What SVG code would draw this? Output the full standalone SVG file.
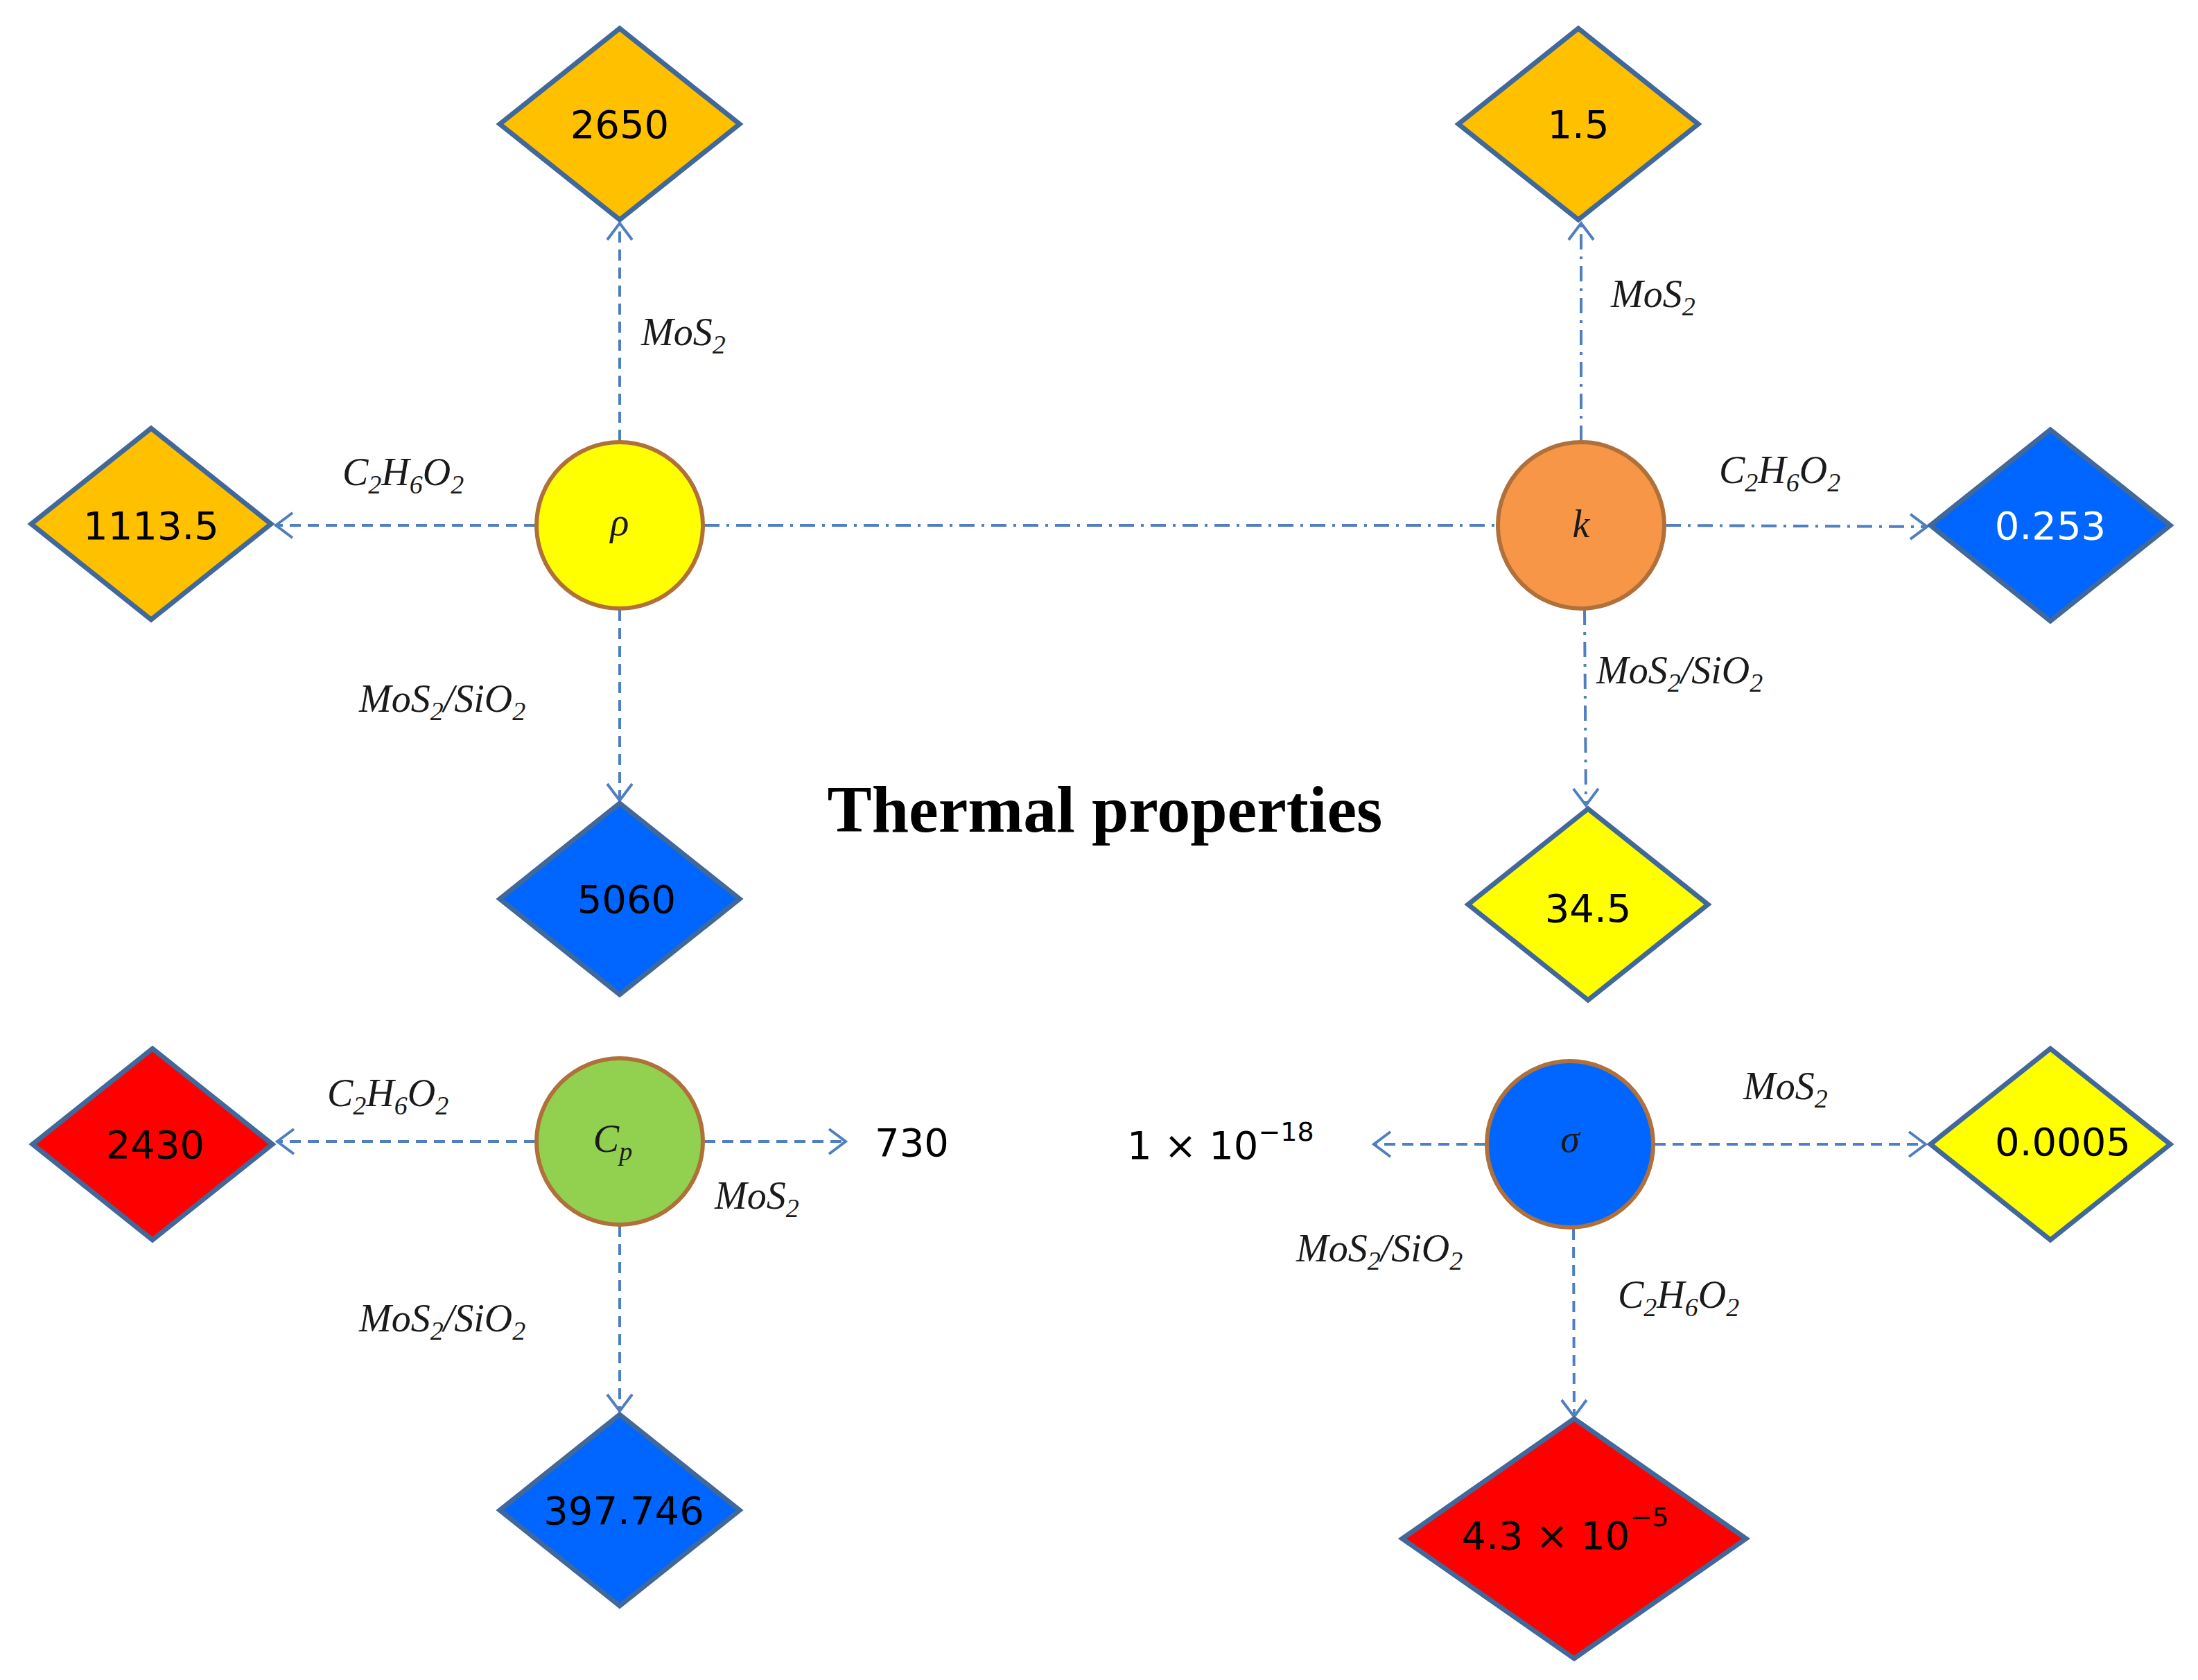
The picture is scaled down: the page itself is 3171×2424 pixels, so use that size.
<svg xmlns="http://www.w3.org/2000/svg" width="3171" height="2424" viewBox="0 0 3171 2424">
<style>
.d{stroke:#41689A;stroke-width:7;stroke-linejoin:miter}
.c{stroke:#B0703A;stroke-width:6}
.v{font-family:"DejaVu Sans",Verdana,sans-serif;font-size:56px;text-anchor:middle;dominant-baseline:central}
.l{font-family:"Liberation Serif","DejaVu Serif",serif;font-style:italic;font-size:56px;fill:#1a1a1a}
.s{font-size:38px}
.cn{stroke:#4F7FC0;stroke-width:4;fill:none;stroke-dasharray:16 10}
.dd{stroke-dasharray:22 10 4 10}
</style>
<defs>
<marker id="a" markerUnits="userSpaceOnUse" markerWidth="40" markerHeight="50" refX="28" refY="20" orient="auto" viewBox="0 0 40 40">
<path d="M4,2 L28,20 L4,38" fill="none" stroke="#4F7FC0" stroke-width="4"/>
</marker>
</defs>
<rect width="3171" height="2424" fill="#fff"/>
<g id="connectors">
<line class="cn" x1="894" y1="636" x2="894" y2="322" marker-end="url(#a)"/>
<line class="cn" x1="772" y1="758" x2="398" y2="758" marker-end="url(#a)"/>
<line class="cn" x1="894" y1="880" x2="894" y2="1155" marker-end="url(#a)"/>
<line class="cn dd" x1="1016" y1="758" x2="2159" y2="758"/>
<line class="cn dd" x1="2281" y1="636" x2="2281" y2="322" marker-end="url(#a)"/>
<line class="cn dd" x1="2403" y1="758" x2="2780" y2="760" marker-end="url(#a)"/>
<line class="cn dd" x1="2286" y1="880" x2="2288" y2="1162" marker-end="url(#a)"/>
<line class="cn" x1="772" y1="1647" x2="400" y2="1647" marker-end="url(#a)"/>
<line class="cn" x1="1016" y1="1647" x2="1220" y2="1647" marker-end="url(#a)"/>
<line class="cn" x1="894" y1="1769" x2="894" y2="2036" marker-end="url(#a)"/>
<line class="cn" x1="2143" y1="1651" x2="1982" y2="1651" marker-end="url(#a)"/>
<line class="cn" x1="2387" y1="1651" x2="2778" y2="1651" marker-end="url(#a)"/>
<line class="cn" x1="2270" y1="1773" x2="2271" y2="2044" marker-end="url(#a)"/>
</g>
<g id="n2650"><polygon class="d" fill="#FFC000" points="894,41 1067,179 894,317 721,179"/><text class="v" x="894" y="179">2650</text></g>
<g id="n1113"><polygon class="d" fill="#FFC000" points="218,618 391,756 218,894 45,756"/><text class="v" x="218" y="758">1113.5</text></g>
<g id="n5060"><polygon class="d" fill="#0066FF" points="894,1159 1067,1297 894,1435 721,1297"/><text class="v" x="904" y="1297">5060</text></g>
<g id="n15"><polygon class="d" fill="#FFC000" points="2277,41 2450,179 2277,317 2104,179"/><text class="v" x="2277" y="179">1.5</text></g>
<g id="n0253"><polygon class="d" fill="#0066FF" points="2958,620 3131,758 2958,896 2785,758"/><text class="v" x="2958" y="758" fill="#fff">0.253</text></g>
<g id="n345"><polygon class="d" fill="#FFFF00" points="2291,1167 2464,1305 2291,1443 2118,1305"/><text class="v" x="2291" y="1310">34.5</text></g>
<g id="n2430"><polygon class="d" fill="#FF0000" points="220,1513 393,1651 220,1789 47,1651"/><text class="v" x="224" y="1651">2430</text></g>
<g id="n397"><polygon class="d" fill="#0066FF" points="894,2041 1067,2179 894,2317 721,2179"/><text class="v" x="900" y="2179">397.746</text></g>
<g id="n00005"><polygon class="d" fill="#FFFF00" points="2958,1513 3131,1651 2958,1789 2785,1651"/><text class="v" x="2976" y="1647">0.0005</text></g>
<g id="n43"><polygon class="d" fill="#FF0000" points="2271,2047 2519,2220 2271,2393 2023,2220"/><text class="v" x="2258" y="2215">4.3 × 10<tspan class="s" dy="-26">−5</tspan></text></g>
<g id="rho"><circle class="c" cx="894" cy="758" r="120" fill="#FFFF00"/><text class="l" x="894" y="772" text-anchor="middle">ρ</text></g>
<g id="k"><circle class="c" cx="2281" cy="758" r="120" fill="#F79646"/><text class="l" x="2281" y="775" text-anchor="middle">k</text></g>
<g id="cp"><circle class="c" cx="894" cy="1647" r="120" fill="#92D050"/><text class="l" x="884" y="1662" text-anchor="middle">C<tspan class="s" dy="12">p</tspan></text></g>
<g id="sigma"><circle class="c" cx="2265" cy="1651" r="120" fill="#0066FF"/><text class="l" x="2265" y="1662" text-anchor="middle" fill="#fff">σ</text></g>
<g id="labels">
<text class="l" x="925" y="498">MoS<tspan class="s" dy="12">2</tspan></text>
<text class="l" x="494" y="700">C<tspan class="s" dy="12">2</tspan><tspan dy="-12">H</tspan><tspan class="s" dy="12">6</tspan><tspan dy="-12">O</tspan><tspan class="s" dy="12">2</tspan></text>
<text class="l" x="518" y="1027">MoS<tspan class="s" dy="12">2</tspan><tspan dy="-12">/SiO</tspan><tspan class="s" dy="12">2</tspan></text>
<text class="l" x="2324" y="443">MoS<tspan class="s" dy="12">2</tspan></text>
<text class="l" x="2480" y="697">C<tspan class="s" dy="12">2</tspan><tspan dy="-12">H</tspan><tspan class="s" dy="12">6</tspan><tspan dy="-12">O</tspan><tspan class="s" dy="12">2</tspan></text>
<text class="l" x="2303" y="986">MoS<tspan class="s" dy="12">2</tspan><tspan dy="-12">/SiO</tspan><tspan class="s" dy="12">2</tspan></text>
<text class="l" x="472" y="1596">C<tspan class="s" dy="12">2</tspan><tspan dy="-12">H</tspan><tspan class="s" dy="12">6</tspan><tspan dy="-12">O</tspan><tspan class="s" dy="12">2</tspan></text>
<text class="l" x="1031" y="1744">MoS<tspan class="s" dy="12">2</tspan></text>
<text class="l" x="518" y="1921">MoS<tspan class="s" dy="12">2</tspan><tspan dy="-12">/SiO</tspan><tspan class="s" dy="12">2</tspan></text>
<text class="l" x="2515" y="1586">MoS<tspan class="s" dy="12">2</tspan></text>
<text class="l" x="1870" y="1820">MoS<tspan class="s" dy="12">2</tspan><tspan dy="-12">/SiO</tspan><tspan class="s" dy="12">2</tspan></text>
<text class="l" x="2334" y="1887">C<tspan class="s" dy="12">2</tspan><tspan dy="-12">H</tspan><tspan class="s" dy="12">6</tspan><tspan dy="-12">O</tspan><tspan class="s" dy="12">2</tspan></text>
<text x="1262" y="1668" font-family="DejaVu Sans,sans-serif" font-size="56">730</text>
<text x="1626" y="1672" font-family="DejaVu Sans,sans-serif" font-size="56">1 × 10<tspan font-size="38" dy="-26">−18</tspan></text>
<text x="1594" y="1200" text-anchor="middle" font-family="Liberation Serif,serif" font-weight="bold" font-size="96">Thermal properties</text>
</g>
</svg>
